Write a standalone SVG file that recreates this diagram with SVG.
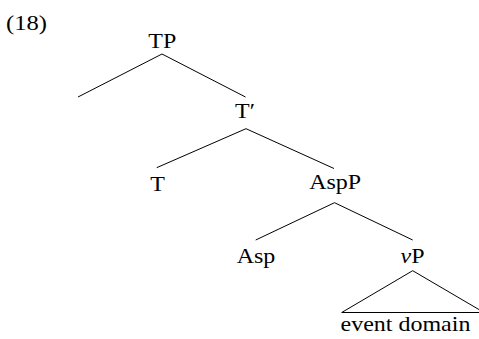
<svg xmlns="http://www.w3.org/2000/svg" width="479" height="339" viewBox="0 0 479 339">
  <style>
    .lbl { font-family: "Liberation Serif", "Times New Roman", serif; font-size: 22px; fill: #000; text-anchor: middle; }
    .num { text-anchor: start; }
    .edge { stroke: #000; stroke-width: 1; fill: none; }
  </style>
  <rect width="479" height="339" fill="#fff"/>

  <!-- example number -->
  <text class="lbl num" transform="translate(6,30) scale(1.12,1)">(18)</text>

  <!-- tree branches -->
  <g id="connectors">
    <polyline class="edge" points="78,97 162,54 245.5,97"/>
    <polyline class="edge" points="156.7,167.7 246,128.7 334,168.5"/>
    <polyline class="edge" points="255.7,240 334.5,202.7 412.7,240"/>
    <polygon class="edge" points="412.7,270.7 341.7,312.5 484,312.5"/>
  </g>

  <g id="TP"><text class="lbl" transform="translate(162.3,48.3) scale(1.09,1)">TP</text></g>
  <g id="Tbar"><text class="lbl num" transform="translate(235,118.3) scale(1.09,1)">T′</text></g>
  <g id="T"><text class="lbl" transform="translate(157.7,191) scale(1.09,1)">T</text></g>
  <g id="AspP"><text class="lbl" transform="translate(335.2,189.3) scale(1.09,1)">AspP</text></g>
  <g id="Asp"><text class="lbl" transform="translate(256,263) scale(1.09,1)">Asp</text></g>
  <g id="vP"><text class="lbl" transform="translate(412.5,263) scale(1.09,1)"><tspan font-style="italic">v</tspan>P</text></g>
  <g id="event-domain"><text class="lbl" transform="translate(405.5,331) scale(1.09,1)">event domain</text></g>
</svg>
